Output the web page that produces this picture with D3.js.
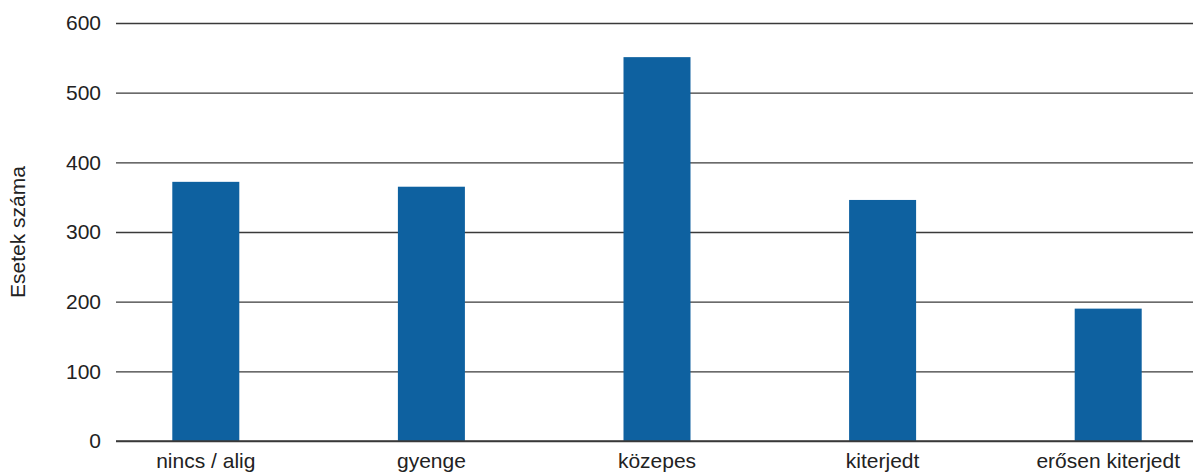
<!DOCTYPE html>
<html>
<head>
<meta charset="utf-8">
<script src="https://d3js.org/d3.v7.min.js"></script>
<style>
  body { margin: 0; background: #fff; }
  text { font-family: "Liberation Sans", Arial, sans-serif; fill: #222; }
</style>
</head>
<body>
<svg width="1193" height="475"></svg>
<script>
// data
const categories = ["nincs / alig", "gyenge", "közepes", "kiterjedt", "erősen kiterjedt"];
const counts = [372, 365, 551, 346, 190];
const yTicks = [0, 100, 200, 300, 400, 500, 600];
const yTitle = "Esetek száma";

const svg = d3.select("svg");

var x = d3.scaleBand().domain(categories).range([93, 1221]).paddingInner(0.703).paddingOuter(0.3515);
var y = d3.scaleLinear().domain([0, 600]).range([441, 23]);

// gridlines + tick labels
var yAxis = d3.axisLeft(y).tickValues(yTicks).tickSize(-(1193 - 116)).tickPadding(15);
var gy = svg.append("g").attr("transform", "translate(116,0)").call(yAxis);
gy.select(".domain").remove();
gy.selectAll(".tick line").attr("stroke", "#3a3a3a").attr("stroke-width", 1.3);
gy.selectAll(".tick text").attr("font-size", 21).style("fill", "#222")
  .attr("font-family", "Liberation Sans, Arial, sans-serif");

// bars
svg.append("g").selectAll("rect")
  .data(counts)
  .enter()
  .append("rect")
    .attr("x", function(d, i) { return x(categories[i]); })
    .attr("y", function(d) { return y(d); })
    .attr("width", x.bandwidth())
    .attr("height", function(d) { return y(0) - y(d); })
    .attr("fill", "#0e61a0");

// redraw baseline on top of bars
svg.append("line")
  .attr("x1", 116).attr("x2", 1193)
  .attr("y1", y(0)).attr("y2", y(0))
  .attr("stroke", "#3a3a3a").attr("stroke-width", 1.3);

// category labels
var gx = svg.append("g").attr("transform", "translate(0," + y(0) + ")")
  .call(d3.axisBottom(x).tickSize(0).tickPadding(12));
gx.select(".domain").remove();
gx.selectAll(".tick text").attr("font-size", 21).style("fill", "#222")
  .attr("font-family", "Liberation Sans, Arial, sans-serif");

// axis title
svg.append("text")
  .attr("transform", "translate(25," + y(300) + ") rotate(-90)")
  .attr("text-anchor", "middle")
  .attr("font-size", 21)
  .text(yTitle);
</script>
</body>
</html>
